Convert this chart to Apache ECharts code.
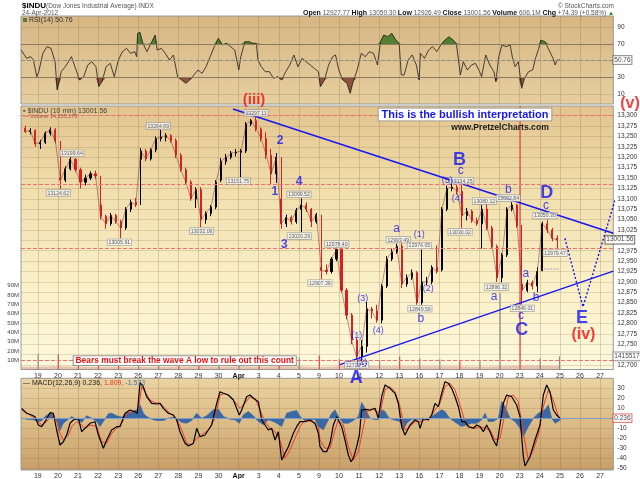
<!DOCTYPE html>
<html>
<head>
<meta charset="utf-8">
<title>$INDU 10 min</title>
<script src="https://cdn.jsdelivr.net/npm/echarts@6/dist/echarts.min.js"></script>
<style>
  html, body { margin: 0; padding: 0; background: #fff; }
  #chart { width: 640px; height: 479px; }
</style>
</head>
<body>
<div id="chart"></div>
<script>
// ---------- data ----------
// x is trading-day position: 0 = start of 19 Mar, 1 = start of 20 Mar, ...
const dayLabels = ['19','20','21','22','23','26','27','28','29','30','Apr','3','4','5','9',
  '10','11','12','13','16','17','18','19','20','23','24','25','26','27'];
const dayTicks = dayLabels.map((_, i) => i);
const xMin = -0.837, xMax = 28.66;

// 10 min bars grouped per quarter session: [open, close, low, high]
const firstSlot = -0.75; // tail of 16 Mar
const priceBars = [
  [13270,13262,13258,13276],[13262,13264,13255,13270],[13264,13232,13225,13268],
  [13232,13236,13220,13242],[13236,13258,13232,13262],[13258,13266,13252,13272],[13266,13239,13234,13270],
  [13150,13145,13124,13239],[13145,13172,13140,13178],[13172,13195,13168,13200],[13195,13170,13165,13198],
  [13170,13140,13125,13175],[13140,13150,13132,13158],[13150,13160,13145,13166],[13160,13155,13148,13168],
  [13085,13058,13050,13155],[13058,13040,13028,13062],[13040,13060,13035,13066],[13060,13045,13040,13064],
  [13045,13030,13005,13050],[13030,13075,13025,13080],[13075,13092,13068,13098],[13092,13085,13080,13102],
  [13195,13215,13085,13222],[13215,13196,13190,13220],[13196,13218,13192,13222],[13218,13245,13212,13250],
  [13245,13248,13238,13266],[13248,13252,13238,13258],[13252,13240,13235,13256],[13240,13205,13198,13245],
  [13205,13170,13165,13210],[13170,13140,13135,13175],[13140,13100,13095,13145],[13100,13122,13078,13128],
  [13122,13050,13032,13128],[13050,13065,13040,13070],[13065,13080,13058,13085],[13080,13140,13075,13145],
  [13145,13190,13140,13198],[13190,13200,13182,13208],[13200,13210,13195,13215],[13210,13212,13202,13220],
  [13212,13215,13152,13220],[13215,13280,13210,13285],[13280,13288,13275,13292],[13288,13268,13262,13297],
  [13268,13245,13238,13272],[13245,13205,13196,13260],[13205,13160,13135,13220],[13160,13200,13138,13210],
  [13100,13040,13028,13200],[13040,13055,13032,13062],[13055,13045,13038,13060],[13045,13072,13040,13078],
  [13075,13085,13020,13101],[13085,13075,13068,13092],[13075,13045,13032,13078],[13045,13062,13040,13066],
  [12935,12928,12907,13062],[12928,12925,12918,12942],[12925,12955,12920,12960],[12955,12978,12950,12982],
  [12978,12880,12875,12982],[12880,12820,12810,12885],[12820,12760,12750,12825],[12760,12720,12712,12765],
  [12720,12745,12710,12760],[12745,12835,12730,12852],[12835,12830,12812,12840],[12830,12808,12802,12845],
  [12808,12890,12800,12895],[12890,12955,12885,12962],[12955,12972,12950,12980],[12972,12986,12968,12992],
  [12986,12895,12885,12993],[12895,12910,12888,12918],[12910,12922,12905,12930],[12922,12850,12845,12926],
  [12850,12900,12845,12978],[12900,12900,12892,12912],[12900,12935,12895,12940],[12935,12925,12920,12988],
  [12929,13075,12925,13080],[13075,13125,13070,13132],[13125,13128,13118,13138],[13128,13118,13110,13135],
  [13118,13060,13030,13135],[13060,13070,13048,13078],[13070,13048,13042,13074],[13048,13040,13035,13055],
  [13040,13075,12980,13085],[13075,13030,13025,13088],[13030,12985,12980,13035],[12985,12910,12900,12990],
  [12910,12965,12899,12970],[12965,13075,12960,13080],[13075,13085,13070,13092],[13085,13035,13030,13088],
  [12895,12880,12846,13037],[12880,12898,12875,12905],[12898,12890,12882,12903],[12890,12925,12875,12935],
  [12927,13040,12926,13045],[13040,13025,13018,13050],[13025,13005,12998,13030],[13005,13001,12979,13012]
];

// volume in millions: typical bar per day (16 Mar .. 24 Apr), opening bar per day (19 Mar .. 24 Apr)
const volBase = [3,3.5,3,3,3,3,3,3,3.5,3,3.5,3,3.5,3.5,2.5,3.5,4.5,3.5,3.5,3.5,3.5,3.5,3,3.5,4,4,3.5];
const volOpen = [17,16,14,8,9,9,6,6,6,10,7,8,8,13,15,11,14,10,14,12,11,9,9,82,283,12];
const volLast = 14.155176;

const rsiPoints = [
  [-0.83,62.8],[-0.561,52.8],[-0.358,54.8],[-0.216,50.8],[-0.053,30.8],[0.048,36.8],[0.252,58.8],[0.455,66.8],
  [0.658,64.8],[0.862,48.8],[0.963,14.8],[1.166,36.8],[1.37,42.8],[1.675,54.8],[1.878,40.8],[2.081,26.8],
  [2.284,30.8],[2.488,44.8],[2.691,48.8],[2.894,42.8],[3.036,18.8],[3.199,24.8],[3.402,42.8],[3.606,46.8],
  [3.809,30.8],[4.012,50.8],[4.216,60.8],[4.419,64.8],[4.622,58.8],[4.825,60.8],[4.927,54.8],[4.968,82.8],
  [5.09,84],[5.232,70.8],[5.435,60.8],[5.638,70.8],[5.842,80.8],[5.943,62.8],[6.147,64.8],[6.35,58.8],
  [6.553,50.8],[6.756,56.8],[6.96,30.8],[7.163,26.8],[7.366,22.8],[7.57,26.8],[7.773,32.8],[7.976,38.8],
  [8.179,34.8],[8.383,42.8],[8.586,54.8],[8.789,66.8],[8.993,76.8],[9.196,68.8],[9.399,70.8],[9.602,66.8],
  [9.806,62.8],[10.009,38.8],[10.11,54.8],[10.314,72.8],[10.517,72.8],[10.72,70.8],[10.883,70.8],[10.964,50.8],
  [11.127,42.8],[11.33,36.8],[11.533,36.8],[11.737,28.8],[11.94,30.8],[12.143,26.8],[12.346,36.8],[12.55,44.8],
  [12.753,56.8],[12.956,42.8],[13.16,52.8],[13.363,48.8],[13.566,44.8],[13.769,40.8],[13.973,36.8],[14.074,18.8],
  [14.277,26.8],[14.481,44.8],[14.684,54.8],[14.826,56.8],[14.989,38.8],[15.192,26.8],[15.395,22.8],[15.558,10.8],
  [15.7,24.8],[15.904,38.8],[16.107,58.8],[16.31,54.8],[16.513,60.8],[16.717,58.8],[16.92,44.8],[17.062,72.8],
  [17.225,80.8],[17.428,78.8],[17.631,82.8],[17.835,74.8],[17.997,70.8],[18.099,32.8],[18.241,32.8],[18.444,50.8],
  [18.648,56.8],[18.851,44.8],[18.993,26.8],[19.054,58.8],[19.257,52.8],[19.46,62.8],[19.664,66.8],[19.867,60.8],
  [20.07,68.8],[20.273,74.8],[20.477,78.8],[20.68,74.8],[20.843,70.8],[21.046,32.8],[21.189,48.8],[21.392,38.8],
  [21.595,44.8],[21.798,46.8],[22.002,36.8],[22.103,30.8],[22.306,56.8],[22.51,44.8],[22.713,36.8],[22.814,24.8],
  [22.957,54.8],[23.119,68.8],[23.323,66.8],[23.526,68.8],[23.627,54.8],[23.77,42.8],[23.932,48.8],[24.095,16.8],
  [24.237,28.8],[24.441,36.8],[24.644,38.8],[24.786,52.8],[24.949,64.8],[25.051,74.8],[25.254,72.8],[25.457,62.8],
  [25.66,52.8],[25.762,44.8],[25.864,50.8],[26.0,50.76]
];

const macdLine = [
  [-0.803,10.2],[-0.554,5.2],[-0.305,3.5],[-0.139,1.8],[0.027,-6.5],[0.193,-8.2],[0.359,-3.2],[0.608,5.8],
  [0.774,5.2],[0.94,-11.5],[1.106,-26.5],[1.272,-23.2],[1.438,-16.5],[1.604,-4.8],[1.77,-1.5],[2.019,0.2],
  [2.185,-13.2],[2.351,-9.8],[2.6,-4.8],[2.849,-3.2],[3.015,-16.5],[3.264,-29.8],[3.43,-21.5],[3.679,-11.5],
  [3.928,-8.2],[4.094,-8.2],[4.343,5.2],[4.592,8.5],[4.841,6.8],[4.957,5.2],[5.09,35.8],[5.256,31.8],
  [5.422,21.8],[5.671,15.2],[5.92,14.5],[6.086,15.2],[6.252,10.2],[6.501,5.2],[6.75,3.5],[6.916,-1.5],
  [7.082,-13.2],[7.331,-24.8],[7.497,-27.5],[7.746,-24.8],[7.912,-9.8],[8.078,-18.2],[8.327,-16.5],[8.659,-6.5],
  [8.908,15.2],[9.074,26.8],[9.24,25.2],[9.489,23.5],[9.738,18.5],[9.937,8.5],[10.037,3.5],[10.153,8.5],
  [10.402,21.8],[10.568,23.5],[10.734,20.2],[10.983,16.8],[11.149,-1.5],[11.315,-6.5],[11.481,-11.5],[11.647,-9.8],
  [11.813,-21.5],[11.979,-13.2],[12.145,-41.5],[12.311,-34.8],[12.477,-28.2],[12.726,-14.8],[12.892,-8.2],[13.058,-3.2],
  [13.307,-3.2],[13.556,-1.5],[13.805,-4.8],[13.971,-14.8],[14.054,-28.2],[14.22,-33.2],[14.386,-33.2],[14.552,-24.8],
  [14.718,-6.5],[14.884,1.8],[14.967,0.2],[15.133,-8.2],[15.299,-21.5],[15.465,-36.5],[15.598,-43.2],[15.714,-39.8],
  [15.88,-28.2],[16.013,-16.5],[16.129,8.5],[16.295,9.2],[16.544,8.5],[16.793,10.2],[16.959,0.2],[17.125,21.8],
  [17.291,33.5],[17.54,30.2],[17.789,25.2],[17.955,15.2],[18.121,-8.2],[18.287,-16.5],[18.536,-6.5],[18.785,-1.5],
  [18.951,-3.2],[19.034,-9.8],[19.2,0.2],[19.449,-1.5],[19.615,3.5],[19.781,15.2],[19.947,11.8],[20.113,25.2],
  [20.279,36.8],[20.445,35.2],[20.611,30.2],[20.777,21.8],[20.943,11.8],[21.109,-3.2],[21.275,-3.2],[21.441,-8.2],
  [21.69,-9.8],[21.856,-6.5],[22.022,-8.2],[22.188,-13.2],[22.354,-6.5],[22.52,-13.2],[22.686,-21.5],[22.852,-27.5],
  [23.018,-6.5],[23.184,15.2],[23.35,23.5],[23.599,21.8],[23.848,13.5],[24.014,1.8],[24.18,-38.2],[24.263,-47.5],
  [24.512,-38.2],[24.761,-21.5],[25.01,-6.5],[25.176,23.5],[25.342,33.5],[25.508,26.8],[25.674,8.5],[25.84,3.5],
  [26.006,0.236]
];

const signalLine = [
  [-0.803,8.5],[-0.388,3.5],[-0.056,-1.5],[0.193,-6.5],[0.442,-3.2],[0.691,3.5],[0.94,-1.5],[1.106,-14.8],
  [1.272,-21.5],[1.521,-16.5],[1.687,-8.2],[1.936,-3.2],[2.185,-6.5],[2.351,-9.8],[2.6,-6.5],[2.932,-8.2],
  [3.181,-23.2],[3.43,-24.8],[3.679,-14.8],[3.928,-9.8],[4.177,-4.8],[4.426,5.2],[4.758,6.8],[5.007,8.5],
  [5.173,31.8],[5.339,26.8],[5.588,18.5],[5.837,15.8],[6.086,15.2],[6.335,10.2],[6.584,5.2],[6.916,0.2],
  [7.165,-11.5],[7.414,-24.8],[7.663,-26.5],[7.912,-19.8],[8.161,-16.5],[8.493,-11.5],[8.825,0.2],[9.074,23.5],
  [9.323,25.2],[9.572,21.8],[9.821,16.8],[10.07,10.2],[10.319,15.2],[10.568,21.8],[10.817,20.2],[11.066,8.5],
  [11.315,-3.2],[11.564,-9.8],[11.813,-13.2],[12.062,-21.5],[12.311,-39.8],[12.56,-31.5],[12.809,-19.8],[13.058,-8.2],
  [13.307,-1.5],[13.639,-3.2],[13.971,-8.2],[14.054,-21.5],[14.303,-29.8],[14.552,-29.8],[14.801,-11.5],[14.967,-1.5],
  [15.216,-6.5],[15.465,-28.2],[15.714,-41.5],[15.963,-33.2],[16.129,-16.5],[16.378,6.8],[16.71,9.2],[17.042,5.2],
  [17.291,28.5],[17.54,31.8],[17.789,26.8],[18.038,11.8],[18.287,-11.5],[18.536,-8.2],[18.785,-3.2],[19.034,-3.2],
  [19.283,-1.5],[19.532,0.2],[19.781,8.5],[20.03,15.2],[20.279,31.8],[20.528,35.2],[20.777,28.5],[21.026,13.5],
  [21.275,-3.2],[21.524,-8.2],[21.773,-9.8],[22.022,-8.2],[22.271,-9.8],[22.52,-11.5],[22.769,-21.5],[23.018,-19.8],
  [23.267,5.2],[23.433,21.8],[23.682,23.5],[23.931,16.8],[24.18,-14.8],[24.429,-41.5],[24.678,-31.5],[24.927,-16.5],
  [25.176,11.8],[25.425,28.5],[25.674,18.5],[25.923,1.8],[26.039,-1.5]
];

const macdHist = [
  [-0.803,0.3],[-0.554,-0.7],[-0.222,-1.3],[0.027,-3],[0.193,-2.3],[0.359,2],[0.608,5.3],[0.774,3.7],
  [0.94,-3],[1.073,-13],[1.272,-4.7],[1.521,-0.7],[1.687,2],[1.936,-1.3],[2.185,-4],[2.434,2.7],
  [2.683,0.3],[2.932,-3],[3.098,-8],[3.264,-3],[3.513,4.7],[3.679,5.3],[3.928,2.7],[4.177,1.3],
  [4.426,5.3],[4.675,7],[4.924,8.7],[5.09,13.7],[5.256,5.3],[5.422,2],[5.671,-0.7],[5.92,-2],
  [6.252,-2],[6.501,0.3],[6.75,1.3],[6.999,-1.3],[7.165,-4],[7.414,-4.7],[7.663,-2],[7.912,5.3],
  [8.161,0.3],[8.41,2.7],[8.742,8.7],[8.991,9.3],[9.24,2],[9.572,-0.7],[9.821,-1.3],[10.037,-4.7],
  [10.236,3.7],[10.485,7],[10.734,2.7],[10.983,-3],[11.232,-6.3],[11.481,-1.3],[11.73,-3],[11.896,-4.7],
  [12.145,-8],[12.394,5.3],[12.643,7],[12.892,8],[13.058,2],[13.307,-2.3],[13.556,-1.3],[13.805,-0.7],
  [13.971,-8],[14.054,-8],[14.22,-11.3],[14.386,-4.7],[14.635,5.3],[14.801,8.7],[14.967,2],[15.216,-4.7],
  [15.465,-4.7],[15.714,-2],[15.963,2],[16.129,16],[16.295,10.3],[16.544,0.3],[16.71,-0.7],[16.959,-1.3],
  [17.125,8.7],[17.291,7],[17.457,1.3],[17.623,-0.7],[18.038,-3],[18.204,-11.3],[18.37,-4.7],[18.619,-0.7],
  [18.868,-0.7],[19.117,-0.7],[19.366,-1.3],[19.615,2],[19.864,5.3],[20.113,8.7],[20.279,7],[20.445,2],
  [20.611,-1.3],[20.86,-4.7],[21.109,-8],[21.358,-6.3],[21.607,-4.7],[21.856,-4.7],[22.105,-1.3],[22.271,5.3],
  [22.437,-3],[22.686,-3],[22.935,0.3],[23.101,17],[23.267,12],[23.516,0.3],[23.765,-3],[24.014,-9.7],
  [24.18,-18],[24.429,-8],[24.678,0.3],[24.927,5.3],[25.093,7],[25.259,8.7],[25.425,13.7],[25.591,0.3],
  [25.757,-4.7],[25.923,-3],[26.039,-0.7]
];

// drawn annotations (data coordinates)
const upperLine = [[9.72,13316],[28.66,13017]];
const lowerLine = [[15.05,12701],[28.66,12926]];
const projection = [[26.25,13005],[27.15,12840],[29.43,13207]];
const gapLine = [[25.09,12931],[26.0,12931]];
const priceLevels = [13300,13134,12980,12712];

const priceTags = [
  [1.70,13200,'13199.64','top'],[1.02,13124,'13124.62','bottom'],[6.00,13266,'13264.69','top'],
  [4.06,13005,'13005.91','bottom'],[8.16,13032,'13032.06','bottom'],[9.99,13152,'13151.75','bottom'],
  [10.87,13297,'13297.11','top'],[13.01,13101,'13099.52','top'],[13.02,13020,'13020.29','bottom'],
  [14.05,12907,'12907.39','bottom'],[14.89,12982,'12978.40','top'],[17.95,12992,'12993.49','top'],
  [19.00,12978,'12974.05','top'],[19.03,12845,'12849.59','bottom'],[15.88,12710,'12710.57','bottom'],
  [21.11,13134,'13134.25','top'],[21.03,13030,'13030.02','bottom'],[22.24,13085,'13080.12','top'],
  [23.43,13092,'13092.84','top'],[22.85,12897,'12896.32','bottom'],[24.13,12846,'12846.01','bottom'],
  [25.26,13050,'13050.30','top'],[25.76,12979,'12979.47','bottom']
];

const waveBig = [[15.86,12669,'A'],[21.0,13194,'B'],[24.1,12784,'C'],[25.34,13114,'D'],[27.1,12814,'E']];
const waveRed = [[10.77,13339,'(iii)'],[29.49,13329,'(v)'],[27.17,12772,'(iv)']];
const waveMid = [[11.81,13117,'1'],[12.06,13239,'2'],[12.28,12989,'3'],[13.01,13141,'4']];
const waveSmall = [[17.87,13029,'a'],[19.07,12811,'b'],[21.06,13168,'c'],[23.43,13123,'b'],[25.31,13084,'c'],
  [22.72,12865,'a'],[24.31,12919,'a'],[24.81,12863,'b'],[24.06,12818,'c']];
const waveTiny = [[15.88,12770,'(1)'],[16.13,12705,'(2)'],[16.18,12859,'(3)'],[16.96,12783,'(4)'],
  [19.0,13013,'(1)'],[19.45,12883,'(2)'],[20.39,13144,'(5)'],[20.89,13101,'(4)']];

const lastClose = 13001.56, lastRsi = 50.76, lastMacd = 0.236, lastVolume = 14155176;

// axis ticks
const priceTicks = [];
for (let v = 12700; v <= 13300; v += 25) priceTicks.push(v);
const priceLabels = priceTicks.filter(v => v !== 13000 && v !== 12725);
const volTicks = [10,20,30,40,50,60,70,80,90].map(v => v * 1e6);
const macdTicks = [-50,-40,-30,-20,-10,0,10,20,30];
const macdLabels = macdTicks.filter(v => v !== 0);

// ---------- chart ----------
const FONT = 'Liberation Sans, Arial, sans-serif';
const BLUE = '#1616f0', RED = '#f01010';
const chart = echarts.init(document.getElementById('chart'));

function grad(stops) {
  return new echarts.graphic.LinearGradient(0, 0, 0, 1,
    stops.map((c, i) => ({ offset: i / (stops.length - 1), color: c })));
}

function dayAxis(grid, showLabels) {
  return {
    type: 'value', gridIndex: grid, min: xMin, max: xMax,
    axisLine: { show: false },
    axisTick: { show: false, customValues: dayTicks },
    axisLabel: {
      show: showLabels, customValues: dayTicks, margin: 3, fontSize: 7, color: '#333', fontFamily: FONT,
      formatter: v => { const t = dayLabels[Math.round(v)]; return t === 'Apr' ? '{b|Apr}' : t; },
      rich: { b: { fontWeight: 'bold', fontSize: 7, color: '#111', fontFamily: FONT } }
    },
    splitLine: { show: true, lineStyle: { color: 'rgba(130,100,60,0.25)', width: 1 } }
  };
}

function rightAxis(grid, min, max, ticks, labels, extra) {
  return Object.assign({
    type: 'value', gridIndex: grid, position: 'right', min: min, max: max,
    axisLine: { show: false },
    axisTick: { show: false, customValues: ticks },
    axisLabel: { customValues: labels, fontSize: 6.5, color: '#333', margin: 4, fontFamily: FONT },
    splitLine: { show: true, lineStyle: { color: 'rgba(130,100,60,0.2)', width: 1 } }
  }, extra || {});
}

function textSeries(points, x, y, size, color, weight) {
  return {
    type: 'scatter', xAxisIndex: x, yAxisIndex: y, symbolSize: 0, clip: false, silent: true, z: 20,
    data: points.map(p => ({ value: p })),
    label: { show: true, position: 'inside', formatter: p => p.value[2], fontSize: size,
      fontWeight: weight, color: color, fontFamily: FONT }
  };
}

function lastTag(x, y, value, text, border, dx) {
  return {
    type: 'scatter', xAxisIndex: x, yAxisIndex: y, symbolSize: 0, clip: false, silent: true, z: 30,
    data: [[xMax, value]],
    label: { show: true, position: 'right', distance: 0, offset: [dx || 0, 0], formatter: text,
      fontSize: 6.5, color: '#111', backgroundColor: '#fff', borderColor: border, borderWidth: 0.8,
      padding: [1, 1, 0, 1], fontFamily: FONT }
  };
}

const candles = priceBars.map((b, i) => [firstSlot + 0.125 + i * 0.25, b[0], b[1], b[2], b[3]]);
const closePath = candles.map(c => [c[0], c[2]]);
const volStrip = volBase.map((v, i) => [i - 1, v * 1e6]).concat([[26, volBase[volBase.length - 1] * 1e6]]);
const volSpikes = volOpen.map((v, i) => {
  const bar = priceBars[3 + i * 4];
  return { value: [i + 0.02, v * 1e6], itemStyle: { color: bar[1] >= bar[0] ? '#8c8c8c' : '#e04848' } };
}).concat([{ value: [25.98, volLast * 1e6], itemStyle: { color: '#8c8c8c' } }]);
const rsiHigh = rsiPoints.map(p => [p[0], Math.max(p[1], 70)]);
const rsiLow = rsiPoints.map(p => [p[0], Math.min(p[1], 30)]);

const option = {
  animation: false,
  backgroundColor: '#fff',
  textStyle: { fontFamily: FONT },
  grid: [
    { left: 21, right: 26.7, top: 16, height: 88, show: true, outerBoundsMode: 'none',
      backgroundColor: grad(['#d6b683', '#dfc392', '#e6cf9f']), borderColor: '#9a9a9a', borderWidth: 1 },
    { left: 21, right: 26.7, top: 106, height: 263.5, show: true, outerBoundsMode: 'none',
      backgroundColor: grad(['#e2c48e', '#f1dfae', '#faf0c8', '#fdf8dc']), borderColor: '#9a9a9a', borderWidth: 1 },
    { left: 21, right: 26.7, top: 378.3, height: 91.7, show: true, outerBoundsMode: 'none',
      backgroundColor: grad(['#ead3a2', '#dbbb86', '#c89f69']), borderColor: '#9a9a9a', borderWidth: 1 }
  ],
  xAxis: [dayAxis(0, false), dayAxis(1, true), dayAxis(2, true)],
  yAxis: [
    rightAxis(0, -2, 103.6, [10, 30, 50, 70, 90], [10, 30, 70, 90]),
    rightAxis(1, 12689.2, 13323.3, priceTicks, priceLabels),
    { type: 'value', gridIndex: 1, position: 'left', min: 0, max: 283.3e6,
      axisLine: { show: false }, axisTick: { show: false },
      axisLabel: { customValues: volTicks, formatter: v => (v / 1e6) + 'M', fontSize: 6, color: '#444',
        margin: 2, fontFamily: FONT },
      splitLine: { show: false } },
    rightAxis(2, -51.5, 40.2, macdTicks, macdLabels)
  ],
  series: [
    // RSI panel
    { type: 'line', xAxisIndex: 0, yAxisIndex: 0, data: rsiHigh, showSymbol: false, silent: true,
      lineStyle: { opacity: 0 }, areaStyle: { origin: 70, color: '#4d7a2b', opacity: 0.95 } },
    { type: 'line', xAxisIndex: 0, yAxisIndex: 0, data: rsiLow, showSymbol: false, silent: true,
      lineStyle: { opacity: 0 }, areaStyle: { origin: 30, color: '#8b4a38', opacity: 0.95 } },
    { type: 'line', xAxisIndex: 0, yAxisIndex: 0, data: rsiPoints, showSymbol: false, silent: true,
      lineStyle: { color: '#1a1a1a', width: 0.8 },
      markLine: { symbol: 'none', silent: true, label: { show: false },
        data: [
          { yAxis: 70, lineStyle: { color: '#8a7a60', width: 1, type: 'solid' } },
          { yAxis: 30, lineStyle: { color: '#8a7a60', width: 1, type: 'solid' } },
          { yAxis: 50, lineStyle: { color: '#8c8c8c', width: 1, type: 'dashed' } }
        ] } },
    lastTag(0, 0, lastRsi, String(lastRsi), '#555', 0),

    // price panel: volume underneath
    { type: 'line', xAxisIndex: 1, yAxisIndex: 2, data: volStrip, step: 'end', showSymbol: false, silent: true,
      lineStyle: { width: 0 }, areaStyle: { color: 'rgba(190,110,100,0.55)' } },
    { type: 'bar', xAxisIndex: 1, yAxisIndex: 2, data: volSpikes, barWidth: 1.2, silent: true },
    { type: 'line', xAxisIndex: 1, yAxisIndex: 1, data: closePath, showSymbol: false, silent: true,
      lineStyle: { color: 'rgba(120,40,40,0.55)', width: 0.9 } },
    { type: 'candlestick', xAxisIndex: 1, yAxisIndex: 1, data: candles, encode: { x: 0, y: [1, 2, 3, 4] },
      barWidth: 1.6, silent: true,
      itemStyle: { color: '#000', color0: '#d82020', borderColor: '#000', borderColor0: '#d82020', borderWidth: 1 },
      markLine: { symbol: 'none', silent: true, label: { show: false },
        lineStyle: { color: '#f07070', type: 'dashed', width: 1 },
        data: priceLevels.map(v => ({ yAxis: v })) } },
    { type: 'line', xAxisIndex: 1, yAxisIndex: 1, data: upperLine, showSymbol: false, silent: true,
      lineStyle: { color: BLUE, width: 1.4 } },
    { type: 'line', xAxisIndex: 1, yAxisIndex: 1, data: lowerLine, showSymbol: false, silent: true,
      lineStyle: { color: BLUE, width: 1.4 } },
    { type: 'line', xAxisIndex: 1, yAxisIndex: 1, data: projection, showSymbol: false, silent: true, clip: false,
      lineStyle: { color: BLUE, width: 1.4, type: [2, 2] } },
    { type: 'line', xAxisIndex: 1, yAxisIndex: 1, data: gapLine, showSymbol: false, silent: true,
      lineStyle: { color: '#5a5ad0', width: 1, type: [1, 2] } },
    { type: 'scatter', xAxisIndex: 1, yAxisIndex: 1, symbolSize: 0, silent: true, z: 15,
      data: priceTags.map(t => ({ value: [t[0], t[1], t[2]], label: { position: t[3] } })),
      label: { show: true, distance: 1, formatter: p => p.value[2], fontSize: 5.2, color: '#333',
        backgroundColor: '#f6f6f6', borderColor: '#8a8a8a', borderWidth: 0.6, padding: [1, 1, 0, 1],
        fontFamily: FONT } },
    textSeries(waveBig, 1, 1, 18, BLUE, 'bold'),
    textSeries(waveRed.slice(0, 1), 1, 1, 15, RED, 'bold'),
    textSeries(waveRed.slice(1), 1, 1, 16, RED, 'bold'),
    textSeries(waveMid, 1, 1, 12, BLUE, 'bold'),
    textSeries(waveSmall, 1, 1, 12, BLUE, 'normal'),
    textSeries(waveTiny, 1, 1, 9, BLUE, 'normal'),
    lastTag(1, 1, lastClose, lastClose.toFixed(2), '#333', -8),
    lastTag(1, 2, lastVolume, String(lastVolume), '#777', 0),

    // MACD panel
    { type: 'line', xAxisIndex: 2, yAxisIndex: 3, data: macdHist, showSymbol: false, silent: true,
      lineStyle: { color: '#2f64a6', width: 0.6 }, areaStyle: { color: '#2f64a6', opacity: 0.95 },
      markLine: { symbol: 'none', silent: true, label: { show: false },
        lineStyle: { color: '#7f9fc8', width: 1, type: 'solid' }, data: [{ yAxis: 0 }] } },
    { type: 'line', xAxisIndex: 2, yAxisIndex: 3, data: signalLine, showSymbol: false, silent: true,
      lineStyle: { color: '#f03a2a', width: 1 } },
    { type: 'line', xAxisIndex: 2, yAxisIndex: 3, data: macdLine, showSymbol: false, silent: true,
      lineStyle: { color: '#000', width: 1.2 } },
    lastTag(2, 3, lastMacd, String(lastMacd), '#e03030', 0)
  ],
  graphic: [
    { type: 'text', z: 100, x: 22, y: 2, style: { text: '$INDU', font: 'bold 8px ' + FONT, fill: '#000' } },
    { type: 'text', z: 100, x: 46, y: 3, style: { text: '(Dow Jones Industrial Average) INDX', font: '6.5px ' + FONT, fill: '#555' } },
    { type: 'text', z: 100, x: 22, y: 10, style: { text: '24-Apr-2012', font: '6.5px ' + FONT, fill: '#555' } },
    { type: 'text', z: 100, x: 614, y: 3, style: { text: '© StockCharts.com', font: '6.5px ' + FONT, fill: '#555', textAlign: 'right' } },
    { type: 'text', z: 100, x: 614, y: 10, style: {
        text: '{b|Open} {v|12927.77} {b|High} {v|13050.30} {b|Low} {v|12926.49} {b|Close} {v|13001.56} {b|Volume} {v|606.1M} {b|Chg} {v|+74.39 (+0.58%)} {u|▲}',
        textAlign: 'right', font: '6.5px ' + FONT,
        rich: { b: { fontWeight: 'bold', fontSize: 7, fill: '#111', fontFamily: FONT },
                v: { fontSize: 6.5, fill: '#555', fontFamily: FONT },
                u: { fontSize: 6, fill: '#228822', fontFamily: FONT } } } },
    { type: 'rect', z: 100, x: 23, y: 18, shape: { width: 4, height: 4 }, style: { fill: '#5c7a3a' } },
    { type: 'text', z: 100, x: 29, y: 17, style: { text: 'RSI(14) 50.76', font: '7px ' + FONT, fill: '#333' } },
    { type: 'text', z: 100, x: 23, y: 107.5, style: { text: '▪ $INDU (10 min) 13001.56', font: '7px ' + FONT, fill: '#444' } },
    { type: 'text', z: 100, x: 23, y: 113.5, style: { text: '— Volume 14,155,176', font: '5.5px ' + FONT, fill: '#a05050' } },
    { type: 'text', z: 100, x: 23, y: 379.5, style: {
        text: '{k|—} {k|MACD(12,26,9) 0.236,} {r|1.809,} {c|-1.573}', font: '7px ' + FONT,
        rich: { k: { fill: '#222', fontSize: 7, fontFamily: FONT }, r: { fill: '#e03a2a', fontSize: 7, fontFamily: FONT },
                c: { fill: '#3f74b6', fontSize: 7, fontFamily: FONT } } } },
    { type: 'text', z: 100, x: 465, y: 114.5, style: {
        text: 'This is the bullish interpretation', font: 'bold 11px ' + FONT, fill: BLUE,
        textAlign: 'center', textVerticalAlign: 'middle', backgroundColor: '#fff', borderColor: '#888',
        borderWidth: 0.8, padding: [1, 3, 0, 3] } },
    { type: 'text', z: 100, x: 500, y: 128, style: {
        text: 'www.PretzelCharts.com', font: 'bold 8.6px ' + FONT, fill: '#1a1a1a',
        textAlign: 'center', textVerticalAlign: 'middle' } },
    { type: 'text', z: 100, x: 184.7, y: 360.8, style: {
        text: 'Bears must break the wave A low to rule out this count', font: 'bold 8.4px ' + FONT, fill: RED,
        textAlign: 'center', textVerticalAlign: 'middle', backgroundColor: '#fff', borderColor: '#777',
        borderWidth: 0.8, padding: [1, 2, 0, 2] } }
  ]
};

chart.setOption(option);
</script>
</body>
</html>
